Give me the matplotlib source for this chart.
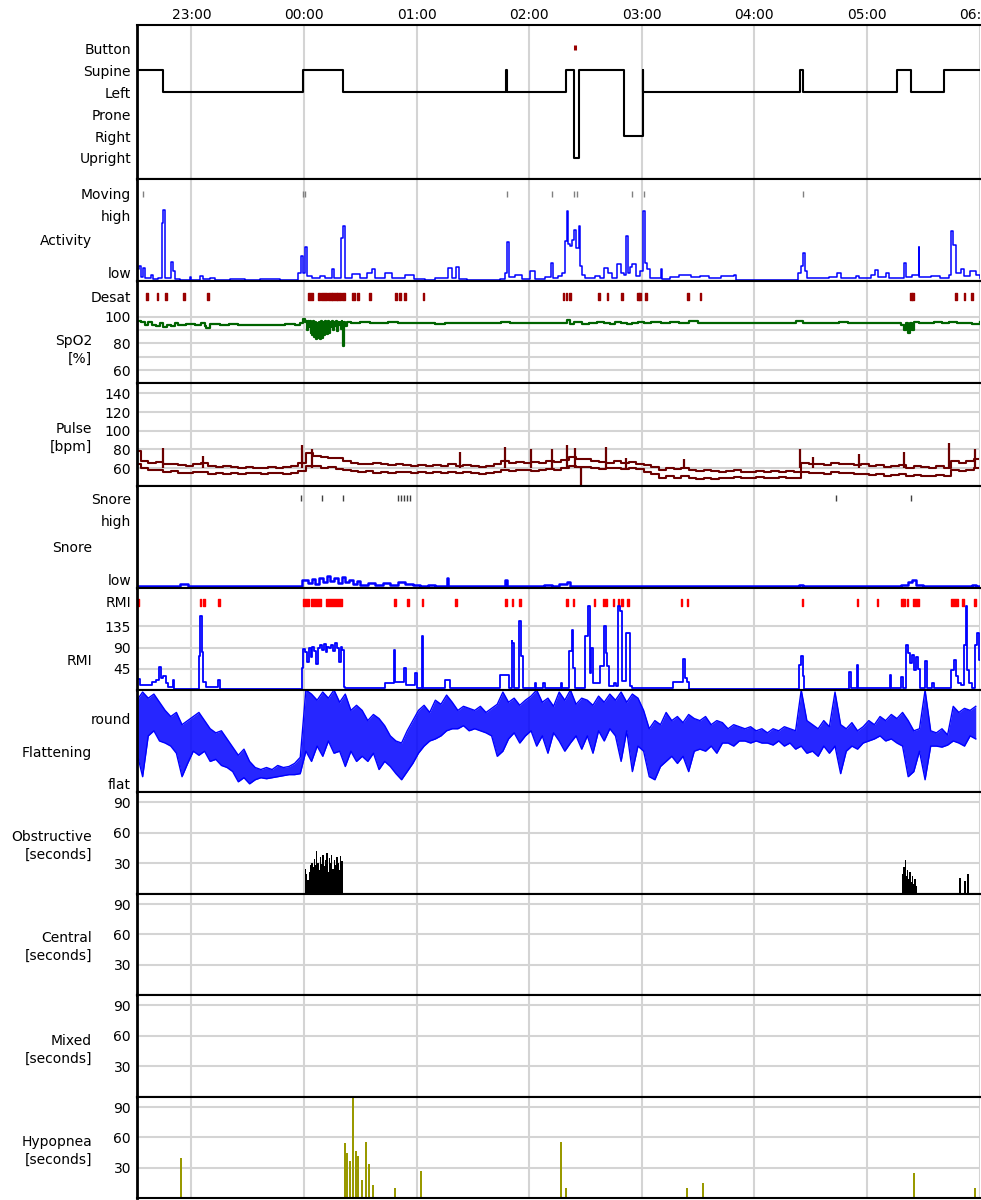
import matplotlib.pyplot as plt
import numpy as np

plt.rcParams['font.family'] = ['DejaVu Sans']
plt.rcParams['font.size'] = 10

W, H = 981, 1200
X0, X1 = 137, 979.5          # plot area left/right in pixels
T_MIN, T_MAX = -89, 360      # minutes relative to 00:00

HOUR_TICKS = [-60, 0, 60, 120, 180, 240, 300, 360]
TIME_LABELS = ["23:00", "00:00", "01:00", "02:00", "03:00", "04:00", "05:00", "06:00"]

# ---- body position (0=Upright .. 4=Supine, 5=Button) ----
POS_LABELS = ["Button", "Supine", "Left", "Prone", "Right", "Upright"]
POS_T = [-89, -75.3, -0.7, 20.8, 107.6, 108.2, 139.5, 143.8, 146.4, 170.4,
         180.5, 180.8, 264.4, 266.2, 316.1, 323.7, 341.1, 360]
POS_V = [4, 3, 4, 3, 4, 3, 4, 0, 4, 1, 4, 3, 4, 3, 4, 3, 4, 4]
BUTTON_T = [144.4]

# ---- activity ----
MOVE_T = [-85.6, -0.3, 0.5, 108.0, 132.0, 144.1, 145.5, 174.9, 181.0, 265.9]
ACT_T = [-89, -88, -87, -86, -85, -81.5, -80.5, -78, -75.7, -75,
         -74, -71, -70, -69, -66, -61, -60, -55.5, -54, -50,
         -47.5, -39.5, -31.5, -23.5, -13, -3, -1.6, -0.5, 0.5, 1.6,
         4.3, 8.5, 11, 15, 16, 19.7, 21, 22, 25.6, 30,
         33.5, 36, 38, 43, 47, 54, 58.6, 64.5, 70, 77,
         79, 81, 82.6, 87, 104.5, 107, 108, 109, 112.5, 116,
         120.5, 123, 128.5, 131.5, 132.7, 135.4, 137.5, 139, 140, 140.7,
         141.8, 143, 144, 145, 146.5, 147, 148, 150, 155, 158,
         160, 162, 164, 167, 169, 170.5, 171.6, 172.7, 174, 175,
         177, 179, 180.7, 181.8, 183, 184.4, 190, 191, 195, 200,
         206, 211, 216, 222, 229, 230, 263, 263.5, 265, 266,
         267, 268, 275, 280, 284, 286, 294, 296, 302, 304.5,
         306, 310, 312, 319.5, 321, 324, 327.5, 328, 334, 339,
         344, 345, 346, 347.5, 350, 352, 355, 358, 360]
ACT_V = [12, 15, 4, 13, 3, 6, 2, 3, 57, 70,
         3, 19, 10, 2, 1, 4, 1, 5, 2, 3,
         1, 2, 1, 2, 1, 8, 25, 8, 33, 5,
         3, 5, 3, 12, 3, 42, 54, 3, 7, 3,
         8, 12, 3, 8, 3, 6, 2, 1, 3, 13,
         3, 14, 2, 1, 2, 8, 38, 4, 6, 2,
         10, 2, 4, 18, 3, 5, 8, 39, 69, 36,
         34, 40, 50, 32, 54, 15, 6, 3, 5, 3,
         13, 8, 3, 17, 8, 6, 44, 8, 14, 17,
         5, 10, 69, 18, 12, 3, 12, 2, 4, 6,
         4, 5, 3, 5, 6, 0.5, 0.5, 8, 15, 27,
         10, 3, 3, 4, 8, 3, 5, 3, 6, 11,
         4, 8, 3, 18, 4, 6, 33, 4, 5, 3,
         6, 49, 35, 8, 12, 5, 10, 6, 3]

# ---- SpO2 ----
DESAT_BARS = [(-84.2, 0.9), (-78.5, 0.9), (-74.1, 0.9), (-64.3, 0.9), (-51.5, 0.9),
              (2.1, 2.7), (7.3, 1.2), (9.1, 3.0), (12.6, 2.2), (15.1, 2.3),
              (17.7, 2.0), (20.1, 1.8), (25.4, 1.8), (28.1, 1.4), (34.8, 0.9),
              (48.5, 0.9), (50.6, 0.9), (53.3, 1.1), (63.3, 0.9), (137.9, 0.9),
              (139.5, 0.9), (141.4, 0.9), (156.6, 0.9), (161.3, 0.9), (169.1, 0.9),
              (177.7, 0.9), (178.8, 0.9), (181.9, 0.9), (204.1, 0.9), (210.8, 0.9),
              (323.0, 0.8), (324.2, 0.8), (346.9, 0.9), (351.5, 0.9), (355.5, 0.9)]
SPO2_T = [-89, -87, -85, -83, -81, -79, -77, -75, -73, -71,
          -69, -67, -63, -58, -55, -53, -52, -50, -45, -40,
          -35, -30, -25, -20, -15, -10, -5, -2, -0.5,
          0.5, 1, 1.5, 2, 2.5, 3, 3.5, 4, 4.5, 5,
          5.5, 6, 6.5, 7, 7.5, 8, 8.5, 9, 9.5, 10,
          10.5, 11, 11.5, 12, 12.5, 13, 13.5, 14, 14.5, 15,
          15.5, 16, 16.5, 17, 17.5, 18, 18.5, 19, 19.5, 20,
          20.5, 21, 21.5, 22, 23,
          25, 30, 35, 40, 45, 50, 55, 60, 65, 70,
          75, 80, 85, 90, 95, 100, 105, 110, 115, 120,
          125, 130, 135, 140, 142, 144, 148, 152, 156, 160,
          163, 166, 169, 172, 175, 178, 181, 185, 190, 195,
          200, 205, 210, 215, 220, 225, 230, 240, 250, 262,
          266, 270, 275, 280, 285, 290, 295, 300, 305, 310,
          315, 318, 320, 321, 322, 323, 324, 325, 328, 332,
          336, 340, 344, 348, 352, 356, 360]
SPO2_V = [97, 96, 94, 96, 94, 93, 95, 92, 94, 93,
          95, 94, 94.5, 94, 95, 93, 91.5, 94.5, 94, 94.5,
          94, 93.5, 94, 93.5, 94, 94.5, 94, 95, 98,
          96, 97, 90, 97, 92, 97, 88, 96, 86, 97,
          85, 96, 83, 95, 84, 96, 83, 97, 84, 96,
          86, 97, 90, 96, 87, 97, 88, 96, 92, 97,
          90, 96, 93, 97, 89, 96, 94, 96, 91, 97,
          93, 78, 96, 93, 96,
          95.5, 96, 95, 95.5, 96, 95, 95.5, 95, 95.5, 94.5,
          95, 95.5, 95, 95, 95, 95.5, 96, 95.5, 95, 95.5,
          95.5, 95.5, 95.5, 97.5, 94.5, 96, 94.5, 95, 96, 95.5,
          94.5, 96, 95, 94.5, 95.5, 96, 95, 96, 95.5, 96,
          95.5, 96.5, 95.5, 95.5, 95, 95.5, 95, 95, 95, 96.5,
          95.5, 95, 95.5, 95, 96, 95.5, 95.5, 95.5, 95.5, 95,
          95.5, 94, 90, 95, 88, 95, 90, 96, 95, 95.5,
          96, 95, 96, 95, 95.5, 94.5, 96]
SPO2_GRID = [60, 70, 80, 90, 100]

# ---- pulse (upper / lower trace, sampled every 4 min from 22:31) ----
PULSE_T0, PULSE_DT = -89, 4
PULSE_HI = [78, 68, 66, 67, 64, 65, 63, 62, 64, 66,
            62, 61, 62, 61, 60, 61, 60, 60, 61, 60,
            61, 62, 66, 76, 73, 72, 71, 71, 68, 66,
            65, 64, 66, 64, 63, 64, 63, 62, 63, 62,
            63, 62, 64, 62, 63, 62, 61, 62, 64, 68,
            66, 67, 66, 67, 66, 68, 67, 69, 72, 70,
            70, 68, 67, 66, 68, 66, 67, 65, 63, 61,
            58, 60, 59, 60, 58, 57, 58, 57, 56, 57,
            58, 56, 56, 57, 56, 57, 56, 57, 56, 66,
            64, 65, 63, 66, 64, 65, 63, 64, 62, 63,
            61, 62, 63, 60, 62, 61, 60, 62, 60, 68,
            66, 68, 70]
PULSE_LO = [64, 60, 58, 58, 56, 57, 55, 55, 56, 56,
            54, 55, 54, 55, 54, 55, 55, 54, 55, 55,
            54, 55, 57, 62, 62, 60, 61, 59, 58, 57,
            56, 57, 55, 56, 55, 56, 56, 55, 56, 55,
            56, 55, 56, 55, 56, 55, 54, 55, 56, 58,
            57, 58, 58, 57, 58, 59, 58, 60, 62, 61,
            61, 60, 59, 60, 60, 59, 60, 59, 56, 54,
            50, 52, 50, 52, 50, 49, 50, 49, 50, 50,
            51, 50, 50, 51, 50, 50, 51, 50, 50, 56,
            55, 55, 54, 56, 55, 55, 54, 54, 53, 54,
            52, 53, 54, 52, 53, 52, 52, 53, 52, 58,
            57, 58, 60]
PULSE_SPIKE_T = [-75, -54, -1, 4, 83, 107, 121, 132, 140, 144.5,
                 147.5, 161, 171.6, 202.6, 264.5, 271, 296, 320, 344, 357.6]
PULSE_SPIKE_V = [82, 73, 85, 80, 77, 83, 80, 80, 85, 82,
                 41, 83, 71, 70, 80, 72, 75, 77, 87, 80]
PULSE_GRID = [60, 80, 100, 120, 140]

# ---- snore ----
SNORE_MARK_T = [-1.6, 9.6, 20.8, 50.1, 51.7, 53.3, 54.9, 56.5, 283.6, 323.5]
SNORE_T = [-89, -67, -66, -62, -2, -1, 2, 4, 6, 8,
           10, 12, 14, 16, 18, 20, 22, 24, 26, 28,
           30, 34, 38, 42, 46, 50, 54, 58, 62, 66,
           70, 76, 77, 85, 100, 107, 108, 120, 128, 132,
           136, 140, 142, 146, 264, 266, 318, 322, 324, 326,
           330, 345, 350, 356, 358, 360]
SNORE_V = [1.5, 1.5, 4, 1.5, 1.5, 8, 5, 9, 4, 10,
           6, 12, 7, 10, 5, 11, 6, 8, 4, 7,
           3, 5, 3, 5, 3, 6, 4, 3, 2, 3,
           2, 10, 2, 2, 1.5, 8, 2, 1.5, 3, 2,
           4, 6, 2, 1.5, 3, 1.5, 3, 6, 8, 3,
           1.5, 2, 1.5, 3, 1.5, 1.5]

# ---- RMI ----
RMI_BARS = [(-88.6, 0.8), (-55.4, 0.7), (-53.7, 0.7), (-45.7, 0.7), (-0.3, 2.8),
            (3.7, 5.3), (11.7, 8.6), (48.1, 0.7), (55.1, 0.7), (62.7, 0.7),
            (80.7, 0.7), (107.3, 0.7), (110.6, 0.7), (114.8, 0.7), (139.8, 0.7),
            (143.2, 0.7), (154.6, 0.7), (159.2, 0.7), (160.6, 0.8), (164.5, 0.7),
            (167.3, 0.7), (169.1, 0.7), (172.4, 0.7), (200.8, 0.7), (203.9, 0.7),
            (265.2, 0.7), (294.8, 0.7), (305.2, 0.7), (318.4, 0.7), (319.4, 0.7),
            (321.2, 0.7), (324.6, 3.3), (345.0, 3.5), (350.8, 0.7), (357.3, 0.7)]
RMI_T = [-89, -87.4, -81.2, -78.9, -77.1, -76.2, -75.2, -73.6, -72.5, -70,
         -69.3, -55.8, -55.2, -54.4, -53.6, -52.2, -45.8, -44.8, -1.1, -0.3,
         0.5, 1.5, 2.5, 3.5, 4.5, 5.5, 6.5, 7.5, 8.5, 9.5,
         10.5, 11.5, 12.5, 13.5, 14.5, 15.5, 16.5, 17.5, 18.5, 19.5,
         20.5, 21.2, 22, 43, 48, 48.5, 53.4, 54.4, 59.2, 60.2,
         62.7, 63.2, 75.4, 77.7, 104.3, 109, 110.6, 111.1, 112, 114.8,
         115.7, 116.5, 122.9, 123.7, 127.4, 128.5, 136.7, 137.5, 141.4, 143,
         143.6, 144.2, 149.9, 151.1, 152.2, 153, 154, 157.6, 160, 161,
         161.7, 162.6, 165, 166.3, 167.5, 168.6, 169.5, 171.5, 173.8, 174.8,
         196.9, 202.2, 202.8, 203.9, 205, 264, 264.9, 265.9, 266.5, 290.6,
         291.5, 294.8, 295.5, 312.2, 312.9, 318.4, 319.3, 320.7, 321.9, 323,
         324.1, 325.1, 326.2, 327.3, 328.3, 331.2, 332.1, 334.7, 335.8, 345,
         346.2, 347.4, 348.6, 350.2, 351.5, 352.6, 353.4, 354.4, 356, 357.7,
         358.9, 359.8, 360]
RMI_V = [24, 10, 17, 22, 48, 25, 30, 15, 7, 21,
         3, 73, 157, 80, 17, 7, 21, 3, 47, 86,
         80, 60, 88, 70, 92, 82, 55, 90, 96, 85,
         98, 80, 92, 88, 95, 82, 100, 90, 60, 92,
         84, 7, 4, 14, 85, 18, 46, 11, 37, 4,
         115, 4, 21, 4, 32, 4, 104, 99, 4, 146,
         71, 4, 14, 4, 14, 4, 14, 4, 82, 128,
         46, 4, 114, 178, 35, 90, 14, 50, 135, 78,
         50, 9, 14, 9, 177, 167, 20, 121, 9, 4,
         18, 65, 25, 18, 3, 53, 71, 30, 3, 39,
         4, 53, 4, 32, 4, 28, 4, 96, 78, 57,
         74, 43, 70, 45, 4, 61, 4, 14, 4, 43,
         64, 30, 14, 10, 96, 177, 43, 14, 4, 96,
         121, 64, 64]
RMI_GRID = [45, 90, 135]

# ---- flattening (upper / lower excursion, sampled every 3 min from 22:31) ----
FLAT_T0, FLAT_DT = -89, 3
FLAT_HI = [90, 98, 92, 96, 88, 80, 74, 78, 66, 70,
           74, 78, 70, 62, 58, 60, 52, 44, 36, 42,
           30, 24, 22, 24, 22, 26, 24, 25, 28, 34,
           100, 96, 90, 98, 92, 100, 88, 96, 80, 85,
           80, 70, 76, 72, 65, 55, 50, 48, 60, 70,
           80, 85, 78, 90, 86, 95, 88, 80, 84, 82,
           80, 84, 78, 82, 86, 98, 88, 92, 85, 90,
           94, 100, 88, 92, 84, 98, 90, 100, 86, 92,
           90, 85, 94, 88, 96, 90, 98, 88, 96, 92,
           80, 62, 70, 66, 78, 70, 74, 68, 76, 72,
           70, 74, 66, 70, 68, 62, 66, 64, 62, 64,
           60, 62, 58, 62, 60, 64, 62, 60, 100, 70,
           66, 62, 70, 64, 98, 66, 62, 68, 60, 64,
           70, 66, 74, 70, 76, 72, 78, 70, 60, 62,
           100, 60, 58, 62, 56, 84, 78, 82, 80, 84]
FLAT_LO = [38, 15, 55, 60, 50, 48, 45, 38, 15, 28,
           40, 36, 40, 30, 32, 26, 24, 20, 10, 14,
           8, 12, 14, 13, 14, 15, 16, 17, 17, 18,
           40, 30, 45, 35, 50, 38, 40, 25, 40, 30,
           35, 30, 38, 22, 30, 25, 18, 12, 20, 28,
           38, 45, 50, 52, 55, 60, 62, 62, 65, 60,
           62, 60, 58, 55, 35, 40, 52, 58, 48, 55,
           60, 45, 55, 38, 58, 50, 40, 48, 55, 42,
           55, 38, 60, 50, 62, 55, 30, 60, 20, 45,
           40, 15, 12, 25, 30, 35, 28, 35, 20, 40,
           42, 40, 45, 38, 48, 48, 45, 50, 50, 48,
           50, 48, 48, 46, 50, 45, 48, 42, 45, 38,
           40, 35, 45, 38, 45, 18, 40, 45, 42, 48,
           50, 52, 55, 50, 52, 48, 45, 15, 20, 40,
           12, 45, 45, 44, 46, 50, 48, 45, 55, 52]

# ---- apnea / hypopnea events: time (min) and duration (s) ----
OBS_T = [0.8, 1.5, 2.2, 2.8, 3.5, 4.2, 4.9, 5.5, 6.2, 6.8,
         7.5, 8.2, 8.8, 9.5, 10.2, 10.8, 11.5, 12.2, 12.8, 13.5,
         14.2, 14.8, 15.5, 16.2, 16.8, 17.5, 18.2, 18.8, 19.5, 20.2,
         319.0, 319.7, 320.4, 321.0, 321.7, 322.4, 323.0, 323.7, 324.4, 325.0,
         325.7, 326.4, 349.6, 352.3, 353.9]
OBS_V = [25, 20, 14, 22, 28, 30, 26, 34, 28, 42,
         30, 24, 36, 29, 38, 27, 33, 40, 22, 35,
         30, 38, 25, 33, 28, 36, 30, 24, 37, 32,
         20, 26, 33, 18, 24, 15, 22, 12, 18, 10,
         15, 8, 16, 13, 20]
HYP_T = [-65.6, 21.9, 23, 24.5, 26.1, 27.7, 28.8, 30.9, 33, 34.6,
         36.8, 48.5, 62.4, 137, 139.6, 204, 212.7, 325, 357.6]
HYP_V = [40, 54, 45, 37, 100, 47, 42, 18, 55, 34,
         13, 10, 27, 55, 10, 10, 15, 25, 10]
SEC_GRID = [30, 60, 90]

GRID_C = '#d4d4d4'
BLUE = '#0000ff'

fig = plt.figure(figsize=(W / 100, H / 100), dpi=100)


def make_panel(top, bottom, ylim, ticks, labels, hgrid=()):
    ax = fig.add_axes([X0 / W, 1 - bottom / H, (X1 - X0) / W, (bottom - top) / H])
    ax.set_xlim(T_MIN, T_MAX)
    ax.set_ylim(*ylim)
    ax.set_xticks(HOUR_TICKS)
    ax.tick_params(axis='x', length=0, labelbottom=False)
    ax.grid(axis='x', color=GRID_C, lw=1.5)
    ax.set_axisbelow(True)
    for g in hgrid:
        ax.axhline(g, color=GRID_C, lw=1.5, zorder=0.5)
    ax.set_yticks(ticks, labels)
    ax.tick_params(axis='y', length=0, pad=4.3)
    ax.spines['top'].set_linewidth(1.5)
    ax.spines['bottom'].set_linewidth(1.5)
    ax.spines['left'].set_linewidth(2)
    ax.spines['right'].set_visible(False)
    return ax


def panel_title(text, yc):
    fig.text(92 / W, 1 - yc / H, text, ha='right', va='center',
             multialignment='right', linespacing=1.35)


# position
ax = make_panel(25, 179, (-0.96, 6.07), [5, 4, 3, 2, 1, 0], POS_LABELS)
ax.tick_params(axis='x', labeltop=True, pad=2.5)
ax.set_xticklabels(TIME_LABELS)
ax.step(POS_T, POS_V, where='post', color='black', lw=1.5)
ax.vlines(BUTTON_T, 4.93, 5.17, color='#990000', lw=2.2)

# activity
ax = make_panel(179, 281, (0, 100), [86, 64, 8], ["Moving", "high", "low"])
ax.vlines(MOVE_T, 82, 88, color='#808080', lw=1)
ax.step(ACT_T, ACT_V, where='post', color=BLUE, lw=1.1)
panel_title("Activity", 241)

# SpO2
ax = make_panel(281, 383, (50.25, 126.8), [115.3, 100, 80, 60],
                ["Desat", "100", "80", "60"], SPO2_GRID)
ax.broken_barh(DESAT_BARS, (112.8, 5), color='#990000')
ax.step(SPO2_T, SPO2_V, where='post', color='#006400', lw=1.6)
panel_title("SpO2\n[%]", 350)

# pulse
ax = make_panel(383, 486, (41, 151), PULSE_GRID[::-1],
                [str(v) for v in PULSE_GRID[::-1]], PULSE_GRID)
pt = PULSE_T0 + PULSE_DT * np.arange(len(PULSE_HI))
ax.step(pt, PULSE_HI, where='mid', color='#6b0000', lw=1.5)
ax.step(pt, PULSE_LO, where='mid', color='#6b0000', lw=1.5)
ax.vlines(PULSE_SPIKE_T, 60, PULSE_SPIKE_V, color='#6b0000', lw=1.6)
panel_title("Pulse\n[bpm]", 438)

# snore
ax = make_panel(486, 588, (0, 100), [88, 66, 8.5], ["Snore", "high", "low"])
ax.vlines(SNORE_MARK_T, 85.3, 91, color='#404040', lw=1)
ax.step(SNORE_T, SNORE_V, where='post', color=BLUE, lw=1.8)
panel_title("Snore", 548)

# RMI
ax = make_panel(588, 690, (0, 216), [187, 135, 90, 45],
                ["RMI", "135", "90", "45"], RMI_GRID)
ax.broken_barh(RMI_BARS, (178.5, 14), color='#ff0000')
ax.step(RMI_T, RMI_V, where='post', color=BLUE, lw=1.3)
panel_title("RMI", 661)

# flattening: band between the upper and lower excursion of the trace
ax = make_panel(690, 792, (0, 100), [72, 8], ["round", "flat"])
ft = FLAT_T0 + FLAT_DT * np.arange(len(FLAT_HI))
ax.fill_between(ft, FLAT_LO, FLAT_HI, color=BLUE, lw=0, alpha=0.85)
ax.plot(ft, FLAT_HI, color=BLUE, lw=1.0)
ax.plot(ft, FLAT_LO, color=BLUE, lw=1.0)
panel_title("Flattening", 753)

# event panels
ax = make_panel(792, 894, (0, 100), SEC_GRID, [str(v) for v in SEC_GRID], SEC_GRID)
ax.bar(OBS_T, OBS_V, width=0.72, color='black', align='center')
panel_title("Obstructive\n[seconds]", 846)

ax = make_panel(894, 995, (0, 100), SEC_GRID, [str(v) for v in SEC_GRID], SEC_GRID)
panel_title("Central\n[seconds]", 947)

ax = make_panel(995, 1097, (0, 100), SEC_GRID, [str(v) for v in SEC_GRID], SEC_GRID)
panel_title("Mixed\n[seconds]", 1050)

ax = make_panel(1097, 1198, (0, 100), SEC_GRID, [str(v) for v in SEC_GRID], SEC_GRID)
ax.bar(HYP_T, HYP_V, width=0.9, color='#999900', align='center')
panel_title("Hypopnea\n[seconds]", 1151)

fig.savefig('out.png', dpi=100)
